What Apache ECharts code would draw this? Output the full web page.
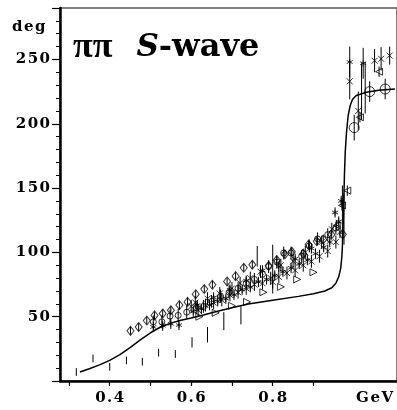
<!DOCTYPE html>
<html><head><meta charset="utf-8">
<script src="https://cdn.jsdelivr.net/npm/echarts@6/dist/echarts.min.js"></script>
<style>html,body{margin:0;padding:0;background:#fff}#c{width:397px;height:410px}</style>
</head><body><div id="c"></div>
<script>
// ---- data (x in GeV, phase in deg, optional error) ----
const xTickValues = [0.3,0.4,0.5,0.6,0.7,0.8,0.9];
const xLabelValues = [0.4,0.6,0.8,1.05];
const yLabelValues = [50,100,150,200,250];

const curve = [[0.327,7],[0.35,9.5],[0.375,12.5],[0.40,16],[0.425,20.5],[0.45,26],[0.475,32],[0.50,37.5],[0.525,42],[0.55,45],[0.575,47.2],[0.60,49],[0.63,51.3],[0.66,53.8],[0.70,57],[0.74,59.8],[0.80,62.8],[0.863,65.8],[0.90,67.8],[0.928,70],[0.945,72.5],[0.955,76],[0.962,81],[0.967,88],[0.97,98],[0.972,112],[0.974,135],[0.976,160],[0.978,178],[0.981,193],[0.985,206],[0.99,214],[0.996,219],[1.005,222],[1.03,224.5],[1.06,226],[1.1,227]];

const plainBars = [[0.318,7,3],[0.359,17.5,3],[0.40,11,3],[0.441,16,3],[0.48,15,3],[0.52,22,3],[0.561,21,3],[0.602,30,4],[0.64,36,6],[0.68,46.5,7],[0.722,51,7],[0.762,97,8],[0.80,87,19],[0.971,130,22],[0.975,126,20],[1.018,225,22],[1.027,228,20]];

const diamonds = [[0.451,39],[0.471,42],[0.491,47],[0.51,51],[0.53,52.5],[0.55,55],[0.571,59],[0.591,61.5],[0.611,67.5],[0.632,71.5],[0.652,74.8],[0.688,77.4],[0.709,81.5],[0.729,88],[0.75,90.4],[0.79,89.6],[0.81,94],[0.83,98.5],[0.847,100.5],[0.875,99],[0.888,106],[0.908,108.6],[0.924,110],[0.944,113.8],[0.972,114]];

const circles = [[0.507,46],[0.528,46],[0.548,50.5],[0.568,51],[0.589,53.5],[0.612,57],[0.63,58],[0.65,62],[0.672,66],[0.693,69],[0.715,72],[0.735,76],[0.755,79],[0.775,83],[0.79,89],[0.81,92.5],[0.827,99.5],[0.845,99.5],[0.871,97],[0.89,105],[0.91,110.5],[0.935,113.8],[0.955,119]];

const bigCircles = [[1.0,197,10],[1.038,225,8],[1.076,227,8]];

const stars = [[0.507,42],[0.53,43],[0.55,44.5],[0.57,43.5],[0.605,54],[0.625,56],[0.645,59],[0.665,62],[0.685,64],[0.705,67],[0.725,71],[0.745,73],[0.765,77],[0.785,79],[0.805,82],[0.825,85],[0.845,88],[0.865,91],[0.885,94],[0.905,99],[0.925,104],[0.94,108],[0.953,131],[0.962,124],[0.968,140],[0.615,59],[0.655,65],[0.695,71],[0.735,78],[0.775,86],[0.815,89],[0.855,95],[0.895,103],[0.989,248,12],[1.022,247,12]];

const crosses = [[0.60,58],[0.617,55],[0.635,59],[0.655,61],[0.675,63],[0.695,67],[0.715,69],[0.735,72],[0.755,75],[0.775,76],[0.795,80],[0.815,81],[0.835,84],[0.855,86],[0.875,90],[0.895,93],[0.915,97],[0.935,101],[0.955,108],[0.965,116],[0.61,61],[0.64,64],[0.67,68],[0.70,72],[0.72,76],[0.745,80],[0.77,85],[0.80,77],[0.82,90],[0.85,93],[0.88,100],[0.92,108],[0.945,118],[0.989,233,14],[1.01,210,15],[1.05,249,9],[1.066,250.5,9],[1.087,253,7]];

const rightTriangles = [[0.62,50],[0.66,53],[0.70,58.5],[0.737,61.5],[0.777,69],[0.82,73.2],[0.86,79],[0.90,84.5]];

const leftTriangles = [[0.957,121],[0.97,136.5],[0.983,148],[1.014,205],[1.061,240.5]];

// ---- chart ----
const F = 'DejaVu Serif';
const spaced = s => String(s).split('').join('\u200a');
function errSeries(data, def){
  return {
    type:'custom', silent:true, z:5, clip:true,
    data: data.map(d=>[d[0], d[1], d.length>2 ? d[2] : def]),
    encode:{x:0, y:1},
    renderItem:(p, api)=>{
      const x=api.value(0), y=api.value(1), e=api.value(2);
      const a=api.coord([x, y-e]), b=api.coord([x, y+e]);
      return {type:'line', shape:{x1:a[0],y1:a[1],x2:b[0],y2:b[1]}, style:{stroke:'#000', lineWidth:1}};
    }
  };
}
const hollow = {color:'rgba(0,0,0,0)', borderColor:'#000', borderWidth:1};
function scat(data, symbol, size, rot){
  return {type:'scatter', symbol:symbol, symbolSize:size, symbolRotate:rot||0, silent:true, z:4,
    data:data.map(d=>[d[0],d[1]]), itemStyle:hollow};
}
const XP = 'path://M0,0L10,10M0,10L10,0';
const SP = 'path://M5,0L5,10M0.7,2.5L9.3,7.5M0.7,7.5L9.3,2.5';

const chart = echarts.init(document.getElementById('c'), null, {renderer:'canvas'});
chart.setOption({
  animation:false,
  backgroundColor:'#fff',
  title:{
    text:'{p|ππ}{s|S}{w|-wave}', left:68, top:25,
    textStyle:{rich:{
      p:{fontFamily:'Liberation Serif', fontWeight:'bold', fontSize:36, color:'#000'},
      s:{fontFamily:F, fontWeight:'bold', fontStyle:'italic', fontSize:31, color:'#000', padding:[0,0,0,24]},
      w:{fontFamily:F, fontWeight:'bold', fontSize:32, color:'#000'}
    }}
  },
  graphic:[{type:'text', left:12, top:20, style:{text:spaced('deg'), font:'bold 15px "DejaVu Serif"', fill:'#000'}}],
  grid:{left:60, right:-2, top:8, bottom:29, show:true, borderColor:'#555', borderWidth:1.5},
  xAxis:{
    type:'value', min:0.278, max:1.105,
    axisLine:{onZero:false, lineStyle:{color:'#000', width:2.5}},
    axisTick:{customValues:xTickValues, length:5, lineStyle:{color:'#000', width:1.2}},
    axisLabel:{customValues:xLabelValues, margin:10, fontFamily:F, fontWeight:'bold', fontSize:15, color:'#000',
      formatter:v=> v>1 ? spaced('GeV') : spaced(v.toFixed(1))},
    splitLine:{show:false}
  },
  yAxis:{
    type:'value', min:0, max:290, interval:50,
    axisLine:{show:true, lineStyle:{color:'#000', width:2.5}},
    axisTick:{show:true, length:8, lineStyle:{color:'#000', width:1.2}},
    minorTick:{show:true, splitNumber:5, length:4, lineStyle:{color:'#000', width:1}},
    axisLabel:{customValues:yLabelValues, margin:10, fontFamily:F, fontWeight:'bold', fontSize:15, color:'#000',
      formatter:v=>spaced(v)},
    splitLine:{show:false}
  },
  series:[
    {type:'line', data:curve, symbol:'none', smooth:false, z:3,
     lineStyle:{color:'#000', width:1.5}, silent:true},
    errSeries(plainBars, 3),
    errSeries(diamonds, 3), scat(diamonds, 'diamond', [7,9]),
    errSeries(circles, 5), scat(circles, 'circle', 6),
    errSeries(bigCircles, 8), scat(bigCircles, 'circle', 10),
    errSeries(stars, 4), scat(stars, SP, 6),
    errSeries(crosses, 5), scat(crosses, XP, 6),
    scat(rightTriangles, 'triangle', [7,7], -90),
    errSeries(leftTriangles, 4), scat(leftTriangles, 'triangle', [7,7], 90)
  ]
});
</script>
</body></html>
